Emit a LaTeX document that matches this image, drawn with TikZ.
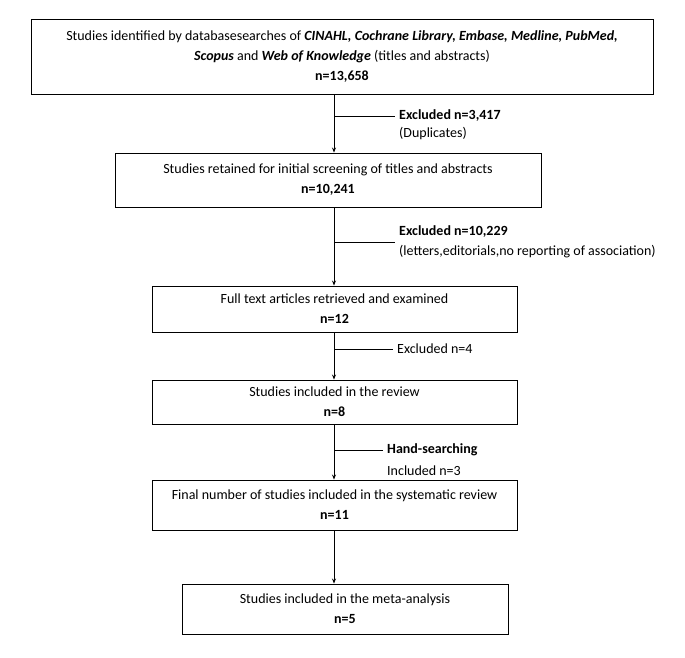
\documentclass[tikz,border=0pt]{standalone}
\usepackage{fontspec}
\setmainfont{Carlito}
\usetikzlibrary{arrows.meta}

\begin{document}
\begin{tikzpicture}[x=1pt,y=-1pt,
	box/.style={draw,line width=0.9pt,align=center,inner sep=0pt,font=\fontsize{14}{20}\selectfont},
	note/.style={anchor=west,inner xsep=4pt,inner ysep=0pt,align=left,font=\fontsize{14}{20}\selectfont},
	>={Stealth[length=5pt,width=4pt]}]
	\useasboundingbox (0,0) rectangle (685,657);
	\coordinate (S) at (334,0);
	\node[box,minimum width=622,minimum height=75] (B1) at (342,56.5) {Studies identified by databasesearches of \textbf{\textit{CINAHL, Cochrane Library, Embase, Medline, PubMed,}}\\ \textbf{\textit{Scopus}} and \textbf{\textit{Web of Knowledge}} (titles and abstracts)\\ \textbf{n=13,658}};
	\node[box,minimum width=426,minimum height=54] (B2) at (328,180) {Studies retained for initial screening of titles and abstracts\\ \textbf{n=10,241}};
	\node[box,minimum width=365,minimum height=46] (B3) at (334.5,309) {Full text articles retrieved and examined\\ \textbf{n=12}};
	\node[box,minimum width=365,minimum height=44] (B4) at (334.5,402) {Studies included in the review\\ \textbf{n=8}};
	\node[box,minimum width=365,minimum height=50] (B5) at (334.5,505) {Final number of studies included in the systematic review\\ \textbf{n=11}};
	\node[box,minimum width=326,minimum height=50] (B6) at (345,609) {Studies included in the meta-analysis\\ \textbf{n=5}};
	% side notes
	\node[note] (L1) at (395,116) {\textbf{Excluded n=3,417}};
	\node[note] (L1b) at (395,134) {(Duplicates)};
	\node[note] (L2) at (395,242) {\textbf{Excluded n=10,229}\\ (letters,editorials,no reporting of association)};
	\node[note] (L3) at (393,349) {Excluded n=4};
	\node[note] (L4) at (383,450) {\textbf{Hand-searching}};
	\node[note] (L4b) at (383,471) {Included n=3};
	\coordinate (J1) at (L1.west -| S);
	\coordinate (J2) at (L2.west -| S);
	\coordinate (J3) at (L3.west -| S);
	\coordinate (J4) at (L4.west -| S);
	\draw[line width=0.9pt]
	(B1.south -| S) edge[->] (B2.north -| S)
	(B2.south -| S) edge[->] (B3.north -| S)
	(B3.south -| S) edge[->] (B4.north -| S)
	(B4.south -| S) edge[->] (B5.north -| S)
	(B5.south -| S) edge[->] (B6.north -| S);
	\draw[line width=0.6pt]
	(J1) -- (L1.west) (J2) -- (L2.west) (J3) -- (L3.west) (J4) -- (L4.west);
\end{tikzpicture}
\end{document}
